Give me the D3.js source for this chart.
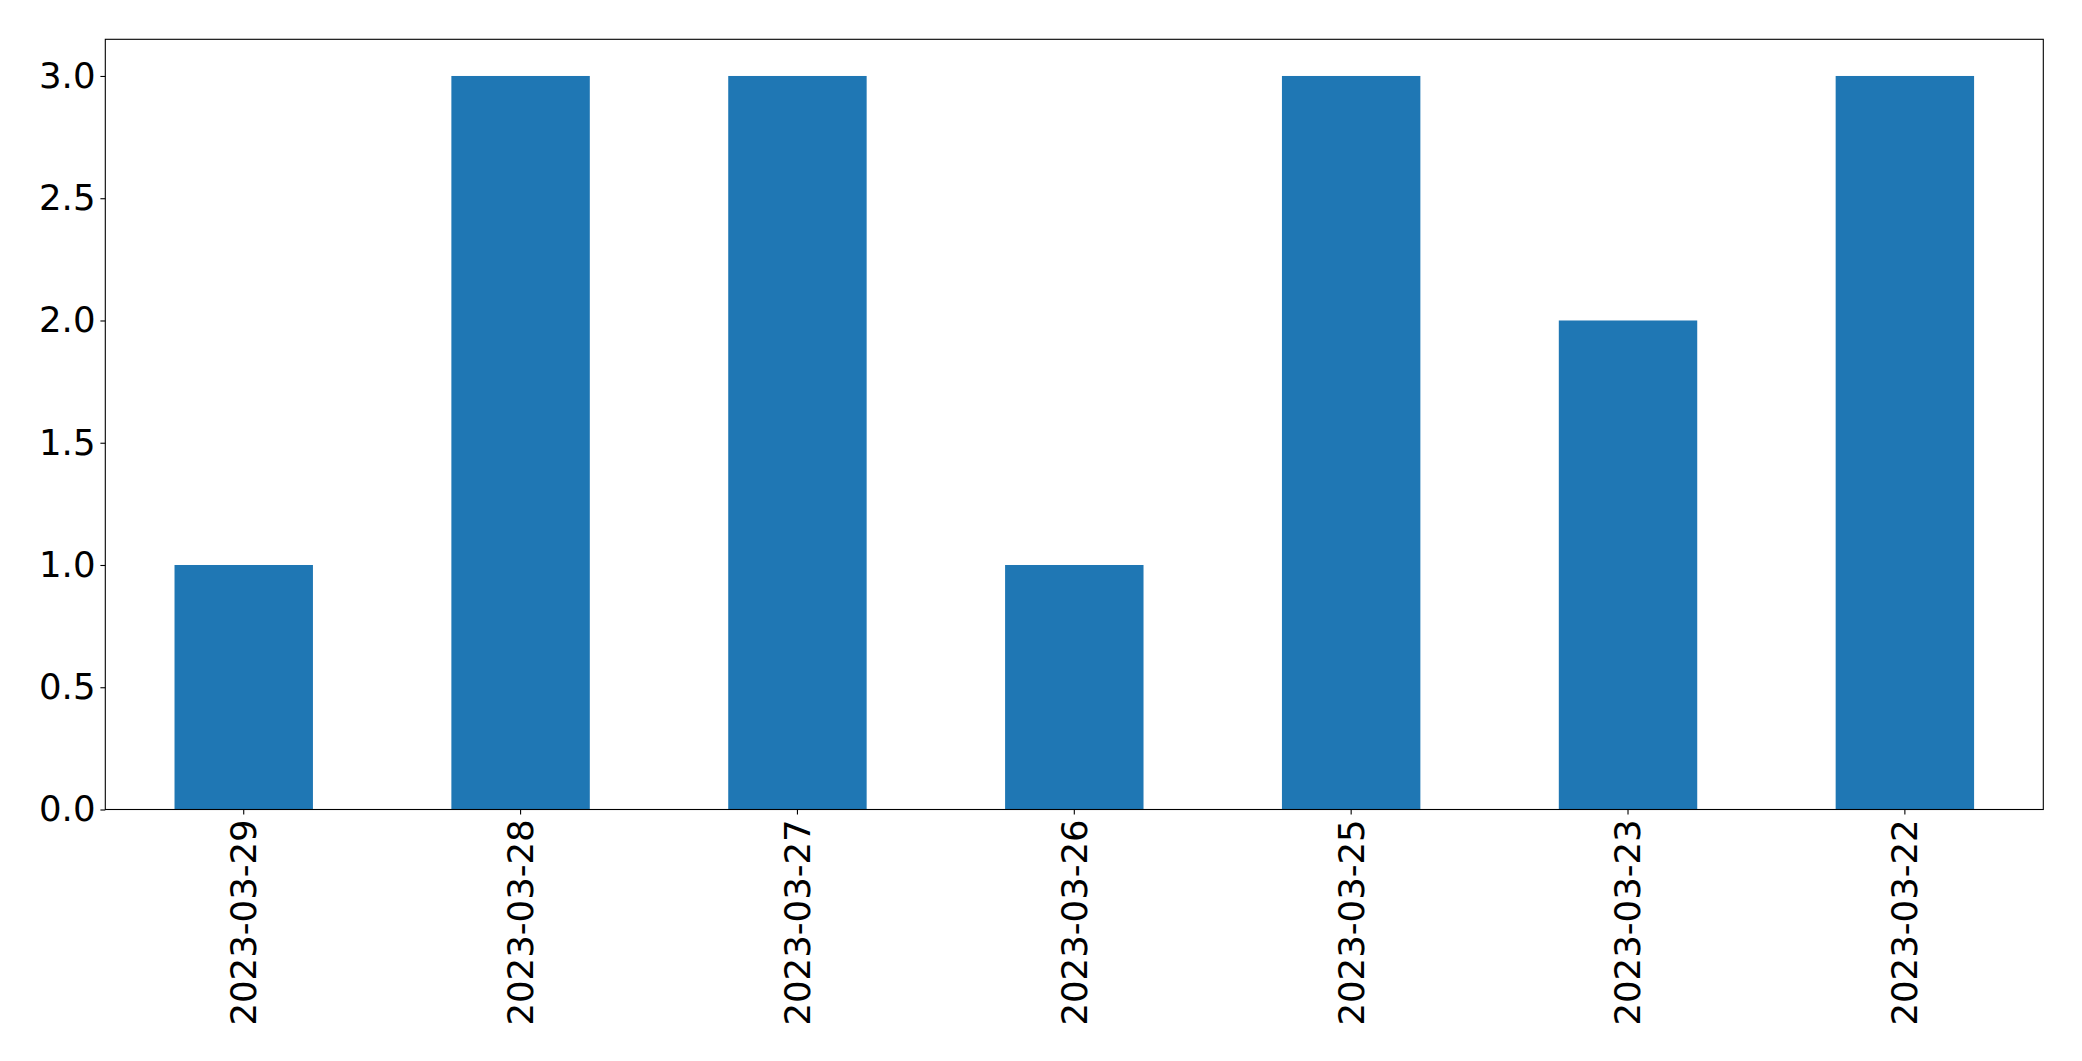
<!DOCTYPE html>
<html><head><meta charset="utf-8">
<script src="https://cdn.jsdelivr.net/npm/d3@7"></script>
<style>html,body{margin:0;padding:0;background:#fff;}</style>
</head><body>
<svg id="chart" width="2082" height="1061"></svg>
<script>
const categories = ["2023-03-29","2023-03-28","2023-03-27","2023-03-26","2023-03-25","2023-03-23","2023-03-22"];
const values = [1, 3, 3, 1, 3, 2, 3];
const yTicks = [0, 0.5, 1.0, 1.5, 2.0, 2.5, 3.0];

const W = 2082, H = 1061;
const m = {left: 105.3, right: 2043.3, top: 39.3, bottom: 809.5};
const svg = d3.select("#chart");
const font = "'DejaVu Sans', sans-serif";
const fs = 35.5;

const x = d3.scaleBand().domain(categories).range([m.left, m.right]).paddingInner(0.5).paddingOuter(0.25);
const y = d3.scaleLinear().domain([0, 3.15]).range([m.bottom, m.top]);

svg.append("g").selectAll("rect").data(values).join("rect")
  .attr("x", (d,i) => x(categories[i]))
  .attr("y", d => y(d))
  .attr("width", x.bandwidth())
  .attr("height", d => y(0) - y(d))
  .attr("fill", "#1f77b4");

// frame
svg.append("rect").attr("x", m.left).attr("y", m.top)
  .attr("width", m.right - m.left).attr("height", m.bottom - m.top)
  .attr("fill", "none").attr("stroke", "#000").attr("stroke-width", 1.1);

const yAxis = d3.axisLeft(y).tickValues(yTicks).tickFormat(d3.format(".1f")).tickSize(4.9).tickPadding(4.9);
const gy = svg.append("g").attr("transform", `translate(${m.left},0)`).call(yAxis)
  .attr("font-family", font).attr("font-size", fs);
gy.select(".domain").remove();
gy.selectAll(".tick line").attr("stroke", "#000").attr("stroke-width", 1.1);
gy.selectAll(".tick text").attr("fill", "#000");

const xAxis = d3.axisBottom(x).tickSize(4.9).tickPadding(4.9);
const gx = svg.append("g").attr("transform", `translate(0,${m.bottom})`).call(xAxis)
  .attr("font-family", font).attr("font-size", fs);
gx.select(".domain").remove();
gx.selectAll(".tick line").attr("stroke", "#000").attr("stroke-width", 1.1);
gx.selectAll(".tick text")
  .attr("fill", "#000")
  .attr("transform", "rotate(-90)")
  .attr("x", -9.8).attr("y", 0).attr("dy", "0.35em")
  .attr("text-anchor", "end");
</script>
</body></html>
